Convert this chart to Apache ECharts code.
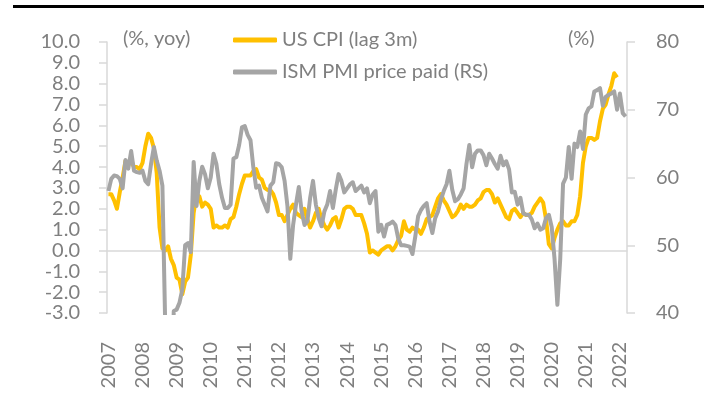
<!DOCTYPE html>
<html>
<head>
<meta charset="utf-8">
<script src="https://cdn.jsdelivr.net/npm/echarts@6/dist/echarts.min.js"></script>
<style>
html,body{margin:0;padding:0;background:#fff;}
#main{width:704px;height:407px;}
</style>
</head>
<body>
<div id="main"></div>
<script>
var years = [2007,2008,2009,2010,2011,2012,2013,2014,2015,2016,2017,2018,2019,2020,2021,2022];

// US CPI yoy, plotted with lead (one row per plotted year, Jan..Dec)
var cpiLag3m = [
	2.7, 2.7, 2.4, 2.0, 2.8, 3.5, 4.3, 4.1, 4.3, 4.0, 4.0, 3.9,
	4.2, 5.0, 5.6, 5.4, 4.9, 3.7, 1.1, 0.1, 0.0, 0.2, -0.4, -0.7,
	-1.3, -1.4, -2.1, -1.5, -1.3, -0.2, 1.8, 2.7, 2.6, 2.1, 2.3, 2.2,
	2.0, 1.1, 1.2, 1.1, 1.1, 1.2, 1.1, 1.5, 1.6, 2.1, 2.7, 3.2,
	3.6, 3.6, 3.6, 3.8, 3.9, 3.5, 3.4, 3.0, 2.9, 2.9, 2.7, 2.3,
	1.7, 1.7, 1.4, 1.7, 2.0, 2.2, 1.8, 1.7, 1.6, 2.0, 1.5, 1.1,
	1.4, 1.8, 2.0, 1.5, 1.2, 1.0, 1.2, 1.5, 1.6, 1.1, 1.5, 2.0,
	2.1, 2.1, 2.0, 1.7, 1.7, 1.7, 1.3, 0.8, -0.1, 0.0, -0.1, -0.2,
	0.0, 0.1, 0.2, 0.2, 0.0, 0.2, 0.5, 0.7, 1.4, 1.0, 0.9, 1.1,
	1.0, 1.0, 0.8, 1.1, 1.5, 1.6, 1.7, 2.1, 2.5, 2.7, 2.4, 2.2,
	1.9, 1.6, 1.7, 1.9, 2.2, 2.0, 2.2, 2.1, 2.1, 2.2, 2.4, 2.5,
	2.8, 2.9, 2.9, 2.7, 2.3, 2.5, 2.2, 1.9, 1.6, 1.5, 1.9, 2.0,
	1.8, 1.6, 1.8, 1.7, 1.7, 1.8, 2.1, 2.3, 2.5, 2.3, 1.5, 0.3,
	0.1, 0.6, 1.0, 1.3, 1.4, 1.2, 1.2, 1.4, 1.4, 1.7, 2.6, 4.2,
	5.0, 5.4, 5.4, 5.3, 5.4, 6.2, 6.8, 7.0, 7.5, 7.9, 8.5, 8.3,
	null, null, null
];

// ISM prices paid (right scale), values under 40 run off the chart
var ismPricesPaid = [
	58.0, 59.8, 60.3, 60.2, 59.8, 58.4, 62.6, 61.3, 63.9, 61.0, 60.8, 60.7,
	61.0, 59.5, 59.0, 62.0, 64.5, 62.5, 61.0, 58.8, 38.0, 30.0, 28.0, 40.3,
	40.5, 41.5, 43.5, 50.0, 50.3, 49.0, 62.3, 55.8, 59.5, 61.6, 60.5, 58.4,
	60.0, 63.5, 62.0, 59.0, 57.0, 55.5, 55.5, 56.0, 62.8, 63.0, 64.8, 67.4,
	67.6, 66.3, 65.5, 61.5, 58.5, 58.8, 57.0, 56.0, 55.0, 58.8, 59.3, 62.1,
	62.0, 61.5, 59.5, 55.8, 48.0, 53.0, 56.0, 58.6, 55.0, 53.0, 53.5, 57.0,
	59.5, 56.0, 54.0, 52.8, 55.0, 56.0, 58.0, 55.5, 58.2, 60.5, 59.5, 57.8,
	58.4, 59.0, 59.3, 58.0, 58.4, 58.8, 57.8, 58.4, 56.2, 57.5, 58.0, 52.0,
	53.0, 51.3, 53.0, 53.2, 53.5, 53.0, 51.0, 50.0, 50.0, 49.9, 49.8, 48.7,
	51.3, 54.3, 55.2, 55.8, 56.2, 53.5, 51.8, 54.0, 55.0, 56.7, 58.0, 59.0,
	61.0, 58.2, 56.5, 56.8, 57.5, 58.4, 62.0, 64.8, 61.5, 63.5, 64.0, 64.0,
	63.3, 61.8, 63.5, 62.8, 62.0, 61.3, 63.2, 61.8, 62.4, 61.2, 57.8, 57.9,
	56.0, 57.0, 54.7, 54.5, 54.5, 53.8, 52.5, 53.2, 52.3, 52.5, 54.0, 54.5,
	52.7, 48.0, 41.2, 48.0, 59.1, 60.0, 64.5, 59.8, 65.0, 64.5, 66.8, 64.2,
	69.3, 70.2, 70.5, 72.7, 72.9, 73.2, 70.6, 71.9, 72.2, 72.4, 72.7, 70.0,
	72.4, 69.5, 69.0
];

var months = [];
for (var y = 0; y < years.length; y++) {
	for (var m = 1; m <= 12; m++) {
		if (months.length < ismPricesPaid.length) months.push(years[y] + '-' + m);
	}
}

var grey = '#7f7f7f';
var axisGrey = '#d9d9d9';
var font = 'Lato';

var myChart = echarts.init(document.getElementById('main'));

myChart.setOption({
	animation: false,
	grid: {left: 107, right: 77, top: 42, bottom: 94},
	legend: {
		orient: 'vertical',
		left: 228,
		top: 25,
		itemWidth: 44,
		itemHeight: 5,
		itemGap: 12,
		icon: 'roundRect',
		textStyle: {color: grey, fontSize: 20, fontFamily: font},
		data: ['US CPI (lag 3m)', 'ISM PMI price paid (RS)']
	},
	graphic: [
		{type: 'rect', left: 13, top: 5, shape: {width: 691, height: 3}, style: {fill: '#000'}},
		{type: 'text', left: 123, top: 29, style: {text: '(%, yoy)', fill: grey, fontSize: 20, fontFamily: font}},
		{type: 'text', left: 568, top: 29, style: {text: '(%)', fill: grey, fontSize: 20, fontFamily: font}}
	],
	xAxis: [{
		type: 'category',
		data: months,
		boundaryGap: true,
		axisLine: {onZero: true, lineStyle: {color: axisGrey, width: 1.5}},
		axisTick: {
			interval: function(i){ return i % 12 === 0; },
			length: 8,
			lineStyle: {color: axisGrey, width: 1.5}
		},
		axisLabel: {show: false},
		splitLine: {show: false}
	}, {
		type: 'category',
		data: months,
		position: 'bottom',
		boundaryGap: true,
		axisLine: {show: false, onZero: false},
		axisTick: {show: false},
		axisLabel: {
			interval: function(i){ return i % 12 === 0; },
			formatter: function(v){ return v.slice(0, 4); },
			rotate: 90,
			margin: 29,
			color: grey,
			fontSize: 20,
			fontFamily: font
		},
		splitLine: {show: false}
	}],
	yAxis: [{
		type: 'value',
		min: -3,
		max: 10,
		interval: 1,
		axisLine: {show: true, lineStyle: {color: axisGrey, width: 1.5}},
		axisTick: {show: true, length: 8, lineStyle: {color: axisGrey, width: 1.5}},
		splitLine: {show: false},
		axisLabel: {
			formatter: function(v){ return v.toFixed(1); },
			margin: 27,
			color: grey,
			fontSize: 20,
			fontFamily: font
		}
	}, {
		type: 'value',
		position: 'right',
		min: 40,
		max: 80,
		interval: 10,
		axisLine: {show: true, lineStyle: {color: axisGrey, width: 1.5}},
		axisTick: {show: true, length: 8, lineStyle: {color: axisGrey, width: 1.5}},
		splitLine: {show: false},
		axisLabel: {margin: 29, color: grey, fontSize: 20, fontFamily: font}
	}],
	series: [{
		name: 'US CPI (lag 3m)',
		type: 'line',
		xAxisIndex: 0,
		yAxisIndex: 0,
		data: cpiLag3m,
		symbol: 'none',
		z: 2,
		itemStyle: {color: '#FFC000'},
		lineStyle: {color: '#FFC000', width: 4, join: 'round'}
	}, {
		name: 'ISM PMI price paid (RS)',
		type: 'line',
		xAxisIndex: 0,
		yAxisIndex: 1,
		data: ismPricesPaid,
		symbol: 'none',
		z: 3,
		itemStyle: {color: '#A5A5A5'},
		lineStyle: {color: '#A5A5A5', width: 4, join: 'round'}
	}]
});
</script>
</body>
</html>
